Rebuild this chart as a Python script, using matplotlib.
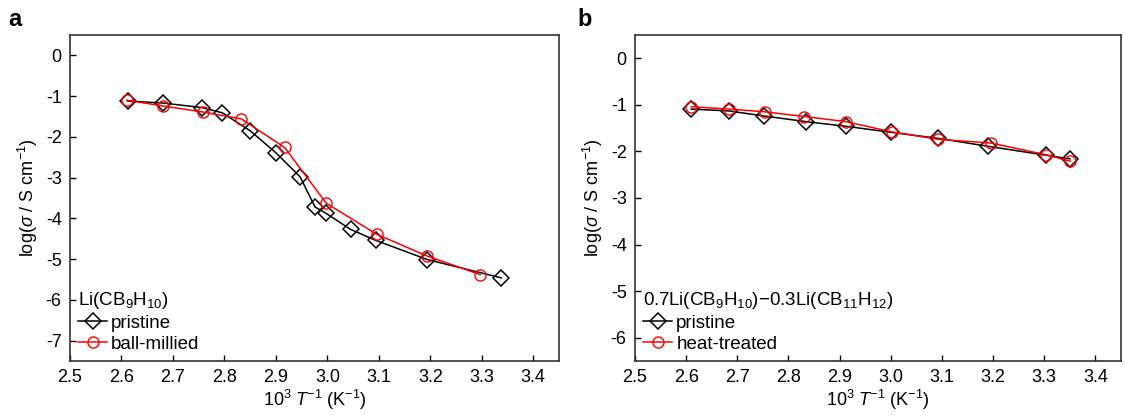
import matplotlib
matplotlib.use("Agg")
import matplotlib.pyplot as plt

plt.rcParams['font.family'] = ['Liberation Sans', 'DejaVu Sans']
plt.rcParams['mathtext.fontset'] = 'custom'
plt.rcParams['mathtext.rm'] = 'Liberation Sans'
plt.rcParams['mathtext.it'] = 'Liberation Sans:italic'
plt.rcParams['mathtext.bf'] = 'Liberation Sans:bold'

# Panel a: Li(CB9H10)
a_pristine_x = [2.612, 2.681, 2.756, 2.796, 2.850, 2.900, 2.947, 2.976, 2.998, 3.045, 3.094, 3.194, 3.338]
a_pristine_y = [-1.12, -1.17, -1.28, -1.41, -1.85, -2.39, -2.98, -3.72, -3.88, -4.27, -4.54, -5.01, -5.46]
a_milled_x = [2.610, 2.680, 2.758, 2.833, 2.917, 2.998, 3.096, 3.193, 3.297]
a_milled_y = [-1.10, -1.24, -1.39, -1.56, -2.26, -3.63, -4.39, -4.92, -5.38]

# Panel b: 0.7Li(CB9H10)-0.3Li(CB11H12)
b_pristine_x = [2.610, 2.683, 2.753, 2.834, 2.912, 3.001, 3.093, 3.190, 3.303, 3.350]
b_pristine_y = [-1.09, -1.13, -1.24, -1.36, -1.46, -1.59, -1.72, -1.89, -2.08, -2.16]
b_heat_x = [2.610, 2.684, 2.754, 2.831, 2.912, 3.002, 3.093, 3.196, 3.303, 3.351]
b_heat_y = [-1.04, -1.09, -1.15, -1.25, -1.36, -1.58, -1.74, -1.82, -2.07, -2.21]

xticks = [2.5, 2.6, 2.7, 2.8, 2.9, 3.0, 3.1, 3.2, 3.3, 3.4]
xticklabels = ['2.5', '2.6', '2.7', '2.8', '2.9', '3.0', '3.1', '3.2', '3.3', '3.4']
a_yticks = [0, -1, -2, -3, -4, -5, -6, -7]
b_yticks = [0, -1, -2, -3, -4, -5, -6]

fig = plt.figure(figsize=(11.25, 4.17), dpi=100)
axA = fig.add_axes([70/1125, 1-361/417, (559-70)/1125, (361-35)/417])
axB = fig.add_axes([635/1125, 1-361/417, (1121-635)/1125, (361-35)/417])

FS = 13
LFS = 13.5

def style(ax, yticks, ylim):
    ax.set_xlim(2.5, 3.45)
    ax.set_ylim(*ylim)
    ax.set_xticks(xticks)
    ax.set_xticklabels(xticklabels)
    ax.set_yticks(yticks)
    ax.set_yticklabels([str(v) for v in yticks])
    ax.tick_params(direction='in', length=4, width=1, labelsize=FS, top=False, right=False, pad=6)
    for s in ax.spines.values():
        s.set_linewidth(1.2)
        s.set_color('#333333')
    ax.set_xlabel(r'10$^3$ $\mathit{T}$$^{-1}$ (K$^{-1}$)', fontsize=FS, labelpad=1)
    ax.set_ylabel(r'log($\mathit{\sigma}$ / S cm$^{-1}$)', fontsize=FS, labelpad=4)

kw_d = dict(color='black', marker='D', ms=8.5, mfc='none', mew=1.1, lw=1.1)
kw_o = dict(color='red', marker='o', ms=8, mfc='none', mew=1.0, lw=1.1)

leg_kw = dict(loc='lower left', frameon=False, fontsize=LFS, title_fontsize=LFS,
              handlelength=1.5, handletextpad=0.25, labelspacing=0.2,
              borderaxespad=0.1, borderpad=0.35, alignment='left')

axA.plot(a_pristine_x, a_pristine_y, label='pristine', **kw_d)
axA.plot(a_milled_x, a_milled_y, label='ball-millied', **kw_o)
style(axA, a_yticks, (-7.5, 0.5))
axA.legend(title=r'Li(CB$_9$H$_{10}$)', **leg_kw)

axB.plot(b_pristine_x, b_pristine_y, label='pristine', **kw_d)
axB.plot(b_heat_x, b_heat_y, label='heat-treated', **kw_o)
style(axB, b_yticks, (-6.5, 0.5))
axB.legend(title=r'0.7Li(CB$_9$H$_{10}$)$-$0.3Li(CB$_{11}$H$_{12}$)', **leg_kw)

fig.text(8/1125, 1-20/417, 'a', fontsize=17, fontweight='bold', va='center', ha='left')
fig.text(577/1125, 1-20/417, 'b', fontsize=17, fontweight='bold', va='center', ha='left')

fig.savefig('out.png', dpi=100)
